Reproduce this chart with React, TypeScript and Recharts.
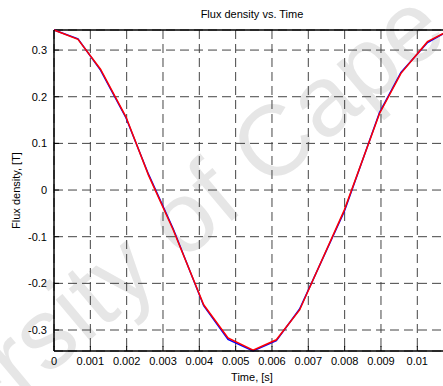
import { LineChart, Line, XAxis, YAxis, CartesianGrid, ReferenceLine, Label } from 'recharts';

// sample times [s]
const times = [0, 0.00066, 0.00128, 0.00198, 0.0026, 0.00328, 0.00412, 0.00479, 0.00548, 0.00612, 0.00676, 0.00799, 0.00896, 0.00955, 0.01028, 0.0109];
// flux density [T], two traces that almost coincide
const fluxBlue = [0.343, 0.324, 0.257, 0.155, 0.034, -0.083, -0.248, -0.32, -0.345, -0.323, -0.255, -0.046, 0.166, 0.252, 0.316, 0.343];
const fluxRed = [0.343, 0.323, 0.259, 0.157, 0.032, -0.085, -0.246, -0.317, -0.343, -0.321, -0.257, -0.043, 0.164, 0.25, 0.318, 0.343];

const xTicks = [0, 0.001, 0.002, 0.003, 0.004, 0.005, 0.006, 0.007, 0.008, 0.009, 0.01];
const yTicks = [-0.3, -0.2, -0.1, 0, 0.1, 0.2, 0.3];
const xMax = 0.0109;
const yMin = -0.345;
const yMax = 0.343;

const data = times.map((t, i) => ({ t, blue: fluxBlue[i], red: fluxRed[i] }));

const font = '"Liberation Sans", Arial, sans-serif';

export default function App() {
  return (
    <div style={{ position: 'fixed', left: 0, top: 0, width: 443, height: 386, overflow: 'hidden', background: '#fff', fontFamily: font }}>
      {/* watermark */}
      <div style={{
        position: 'absolute', left: 215, top: 190, transform: 'translate(-50%, -50%) rotate(-40deg)',
        whiteSpace: 'nowrap', fontSize: 100, color: '#e6e6e6', fontFamily: font,
      }}>
        University of Cape Town
      </div>
      <div style={{ position: 'absolute', left: 0, top: 8, width: 504, textAlign: 'center', fontSize: 11, color: '#000' }}>
        Flux density vs. Time
      </div>
      <div style={{ position: 'absolute', left: 0, top: 0 }}>
        <LineChart width={460} height={386} data={data} margin={{ top: 30, right: 10, bottom: 0, left: 0 }}
          style={{ fontFamily: font }}>
          <CartesianGrid stroke="#444" strokeDasharray="9 5" strokeWidth={1} />
          <XAxis dataKey="t" type="number" domain={[0, xMax]} ticks={xTicks} height={35}
            tickFormatter={v => Number(v.toFixed(3)).toString()}
            tick={{ fontSize: 11, fill: '#000' }} tickSize={-5} tickMargin={11}
            tickLine={{ stroke: '#000' }} axisLine={{ stroke: '#000', strokeWidth: 1.5 }} interval={0}>
            <Label value="Time, [s]" position="insideBottom" offset={5} style={{ fontSize: 11, fill: '#000' }} />
          </XAxis>
          <YAxis type="number" domain={[yMin, yMax]} ticks={yTicks} width={54}
            tickFormatter={v => Number(v.toFixed(1)).toString()}
            tick={{ fontSize: 11, fill: '#000' }} tickSize={-5} tickMargin={12}
            tickLine={{ stroke: '#000' }} axisLine={{ stroke: '#000', strokeWidth: 1.5 }} interval={0}>
            <Label value="Flux density, [T]" angle={-90} position="insideLeft" offset={16}
              style={{ fontSize: 11, fill: '#000', textAnchor: 'middle' }} />
          </YAxis>
          <ReferenceLine y={yMax} stroke="#000" strokeWidth={1.5} />
          <Line dataKey="blue" stroke="#0000ff" strokeWidth={1.5} dot={false} isAnimationActive={false} />
          <Line dataKey="red" stroke="#ff0000" strokeWidth={1.5} dot={false} isAnimationActive={false} />
        </LineChart>
      </div>
    </div>
  );
}
